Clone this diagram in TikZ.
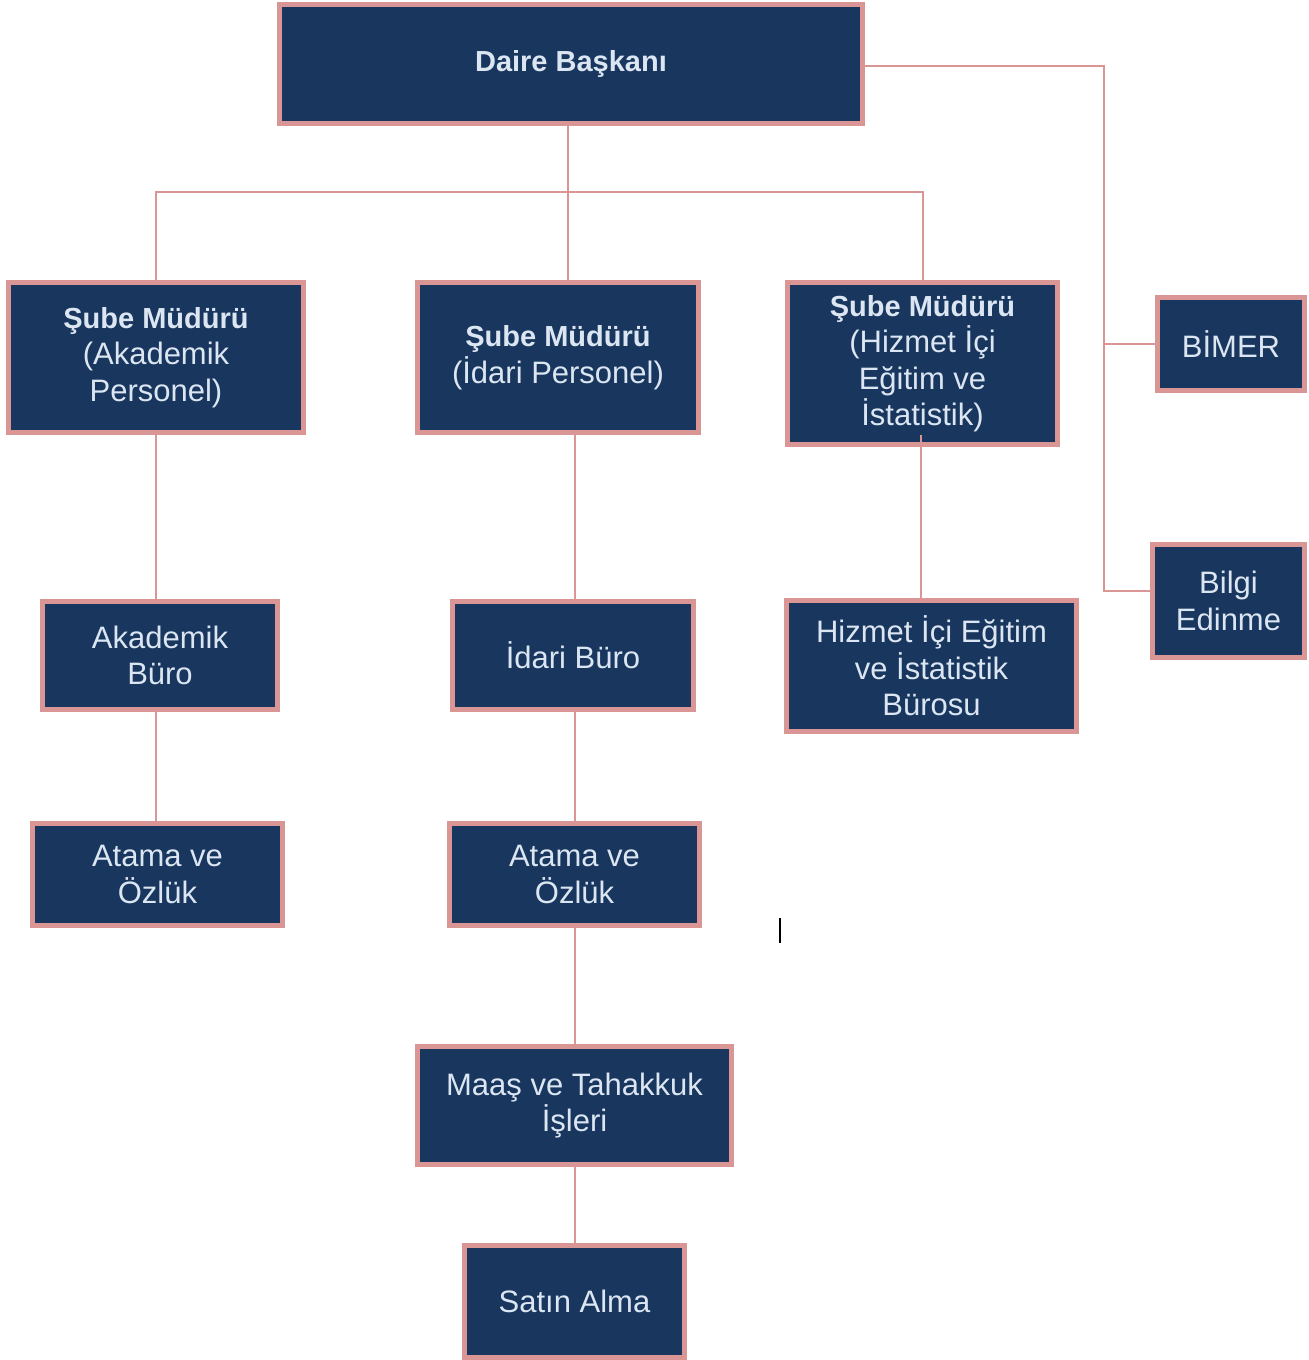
\documentclass[tikz,border=0pt]{standalone}
\usepackage{fontspec}
\setmainfont{Liberation Sans}
\usetikzlibrary{calc}
\definecolor{navy}{RGB}{24,54,94}
\definecolor{rose}{RGB}{217,150,148}
\definecolor{txt}{RGB}{220,230,242}
\newcommand{\bt}[1]{{\fontsize{29}{36.5}\selectfont\bfseries #1}}
\begin{document}
\begin{tikzpicture}[x=1pt,y=-1pt,
  box/.style={draw=rose,line width=5pt,fill=navy,text=txt,inner sep=0pt,align=center,
    font=\fontsize{31}{36.5}\selectfont},
  conn/.style={draw=rose,line width=2pt}]
\useasboundingbox (0,0) rectangle (1309,1360);
% boxes
\node[box,minimum width=583,minimum height=119] (daire) at (571,64) {\bt{Daire Başkanı}};
\node[box,minimum width=295,minimum height=150] (sube1) at (156,357.5) {\bt{Şube Müdürü}\\(Akademik\\Personel)};
\node[box,minimum width=281,minimum height=150] (sube2) at (558,357.5) {\bt{Şube Müdürü}\\(İdari Personel)};
\node[box,minimum width=270,minimum height=162] (sube3) at (922.5,363.5) {\bt{Şube Müdürü}\\(Hizmet İçi\\Eğitim ve\\İstatistik)};
\node[box,minimum width=147,minimum height=93] (bimer) at (1231,344) {BİMER};
\node[box,minimum width=152,minimum height=113] (bilgi) at (1228.5,601) {Bilgi\\Edinme};
\node[box,minimum width=235,minimum height=108] (akb) at (160,655.5) {Akademik\\Büro};
\node[box,minimum width=241,minimum height=108] (idb) at (573,655.5) {İdari Büro};
\node[box,minimum width=290,minimum height=131] (hb) at (931.5,666) {Hizmet İçi Eğitim\\ve İstatistik\\Bürosu};
\node[box,minimum width=250,minimum height=102] (at1) at (157.5,874.5) {Atama ve\\Özlük};
\node[box,minimum width=250,minimum height=102] (at2) at (574.5,874.5) {Atama ve\\Özlük};
\node[box,minimum width=314,minimum height=118] (maas) at (574.5,1105.5) {Maaş ve Tahakkuk\\İşleri};
\node[box,minimum width=220,minimum height=112] (satin) at (574.5,1301.5) {Satın Alma};
% junction coordinates
\coordinate (mid) at (568,192);
\coordinate (rx) at (1104,0);
\coordinate (cx) at (575,0);
% connectors
\draw[conn] (daire.south -| mid) -- (sube2.north -| mid);
\draw[conn] (sube1.north) |- (mid) -| (sube3.north);
\draw[conn] ($(daire.east)+(0,2)$) -- ($(daire.east -| rx)+(0,2)$) |- ($(bilgi.west)+(0,-10)$);
\draw[conn] (bimer.west) -- (bimer.west -| rx);
\draw[conn] (sube1.south) -- (sube1.south |- akb.north);
\draw[conn] (sube1.south |- akb.south) -- (sube1.south |- at1.north);
\draw[conn] (sube2.south -| cx) -- (idb.north -| cx);
\draw[conn] (idb.south -| cx) -- (at2.north -| cx);
\draw[conn] (at2.south -| cx) -- (maas.north -| cx);
\draw[conn] (maas.south -| cx) -- (satin.north -| cx);
\draw[conn] ($(sube3.south)+(-1.5,-12)$) -- ($(sube3.south |- hb.north)+(-1.5,0)$);
% cursor mark
\coordinate (cur1) at (780,918);
\coordinate (cur2) at (780,943);
\draw[line width=2pt,black] (cur1) -- (cur2);
\end{tikzpicture}
\end{document}
